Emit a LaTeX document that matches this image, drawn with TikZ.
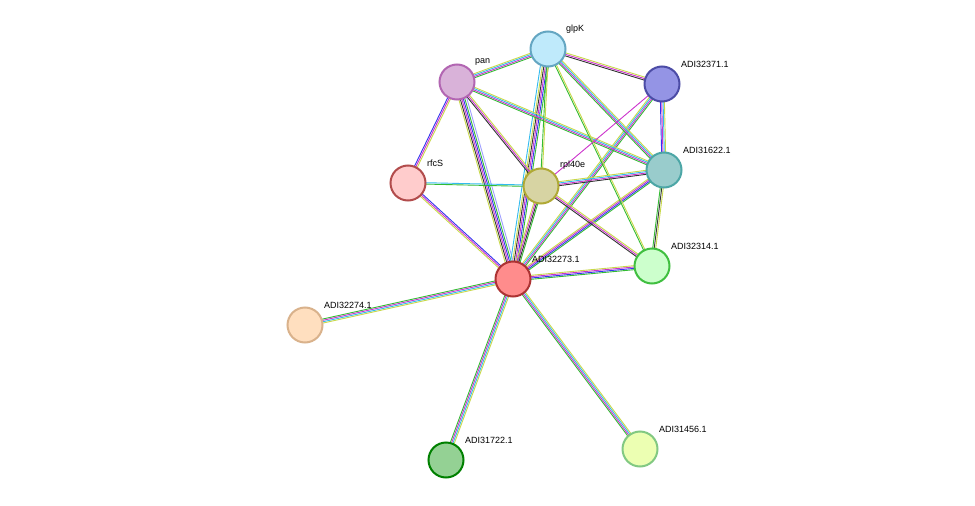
\documentclass[tikz,border=0pt]{standalone}
\usepackage{fontspec}
\setmainfont{Liberation Sans}
\usetikzlibrary{calc}
\definecolor{tm}{HTML}{C8D84A}
\definecolor{ex}{HTML}{CC33CC}
\definecolor{db}{HTML}{33BBEE}
\definecolor{co}{HTML}{333333}
\definecolor{ne}{HTML}{33BB33}
\definecolor{cc}{HTML}{3333EE}
\definecolor{ho}{HTML}{A0A0FF}
\newcommand\edge[3]{\foreach \c/\o in {#3}{\draw[\c,line width=0.9pt] ($(#1)!\o pt!90:(#2)$) -- ($(#2)!\o pt!-90:(#1)$);}}
\tikzset{prot/.style={circle,minimum size=35pt,line width=2pt,inner sep=0pt},
lab/.style={font=\fontsize{9}{10}\selectfont,anchor=south west,inner sep=1pt}}
\begin{document}
\begin{tikzpicture}[x=1pt,y=-1pt]
\useasboundingbox (0,0) rectangle (975,506);
\coordinate (glpK) at (548,49);
\coordinate (pan) at (457,82);
\coordinate (a371) at (662,84);
\coordinate (rfcS) at (408,183);
\coordinate (rpl) at (541,186);
\coordinate (a622) at (664,170);
\coordinate (a273) at (513,279);
\coordinate (a314) at (652,266);
\coordinate (a274) at (305,325);
\coordinate (a722) at (446,460);
\coordinate (a456) at (640,449);
\edge{a273}{glpK}{ne/-3,cc/-1.5,ex/0,co/1.5,tm/3}
\edge{a273}{pan}{ne/-3,cc/-1.5,ex/0,co/1.5,tm/3}
\edge{a273}{rfcS}{cc/-1.5,ex/0,tm/1.5}
\edge{a273}{rpl}{ne/-2,co/-0.7,ex/0.7,tm/2}
\edge{a273}{a622}{ne/-2,cc/-0.7,ex/0.7,tm/2}
\edge{a273}{a371}{ne/-2,ex/-0.7,db/0.7,tm/2}
\edge{a273}{a314}{ne/-2,cc/-0.7,ex/0.7,tm/2}
\edge{a273}{a274}{ne/-2,ex/-0.7,db/0.7,tm/2}
\edge{a273}{a722}{ne/-2,ex/-0.7,db/0.7,tm/2}
\edge{a273}{a456}{ne/-2,ex/-0.7,db/0.7,tm/2}
\edge{a273}{pan}{ho/-5}
\edge{a273}{glpK}{db/5}
\edge{pan}{glpK}{ne/-2,ex/-0.7,db/0.7,tm/2}
\edge{pan}{rfcS}{cc/-1.5,ex/0,tm/1.5}
\edge{pan}{rpl}{co/-1.5,ex/0,tm/1.5}
\edge{pan}{a622}{ne/-2,ex/-0.7,db/0.7,tm/2}
\edge{glpK}{a371}{co/-1.5,ex/0,tm/1.5}
\edge{glpK}{a622}{ne/-2,ex/-0.7,db/0.7,tm/2}
\edge{glpK}{rpl}{ne/-0.7,tm/0.7}
\edge{glpK}{a314}{ne/-0.7,tm/0.7}
\edge{rfcS}{rpl}{ne/-0.7,db/0.7}
\edge{rpl}{a622}{co/-2,ex/-0.7,db/0.7,tm/2}
\edge{rpl}{a314}{co/-1.5,ex/0,tm/1.5}
\edge{rpl}{a371}{ex/0}
\edge{a371}{a622}{cc/-2,ex/-0.7,db/0.7,tm/2}
\edge{a622}{a314}{ne/-1.5,co/0,tm/1.5}
\node[prot,draw=red!60!black!80,fill=red!45] (n273) at (a273) {};
\node[prot,draw=cyan!50!gray,fill=cyan!25] (nglpK) at (glpK) {};
\node[prot,draw=violet!60,fill=violet!30] (npan) at (pan) {};
\node[prot,draw=blue!50!black!70,fill=blue!40!white!80!gray] (n371) at (a371) {};
\node[prot,draw=red!40!gray,fill=red!20] (nrfcS) at (rfcS) {};
\node[prot,draw=olive!70,fill=yellow!40!gray!60] (nrpl) at (rpl) {};
\node[prot,draw=teal!70,fill=teal!40] (n622) at (a622) {};
\node[prot,draw=green!50!gray,fill=green!20] (n314) at (a314) {};
\node[prot,draw=brown!60,fill=orange!25] (n274) at (a274) {};
\node[prot,draw=green!50!black,fill=green!40!gray!60] (n722) at (a722) {};
\node[prot,draw=green!40!gray!70,fill=lime!30] (n456) at (a456) {};
\node[lab] at (565,35) {glpK};
\node[lab] at (474,67) {pan};
\node[lab] at (680,69) {ADI32371.1};
\node[lab] at (426,168) {rfcS};
\node[lab] at (559,171) {rpl40e};
\node[lab] at (682,155) {ADI31622.1};
\node[lab] at (531,264) {ADI32273.1};
\node[lab] at (670,251) {ADI32314.1};
\node[lab] at (323,310) {ADI32274.1};
\node[lab] at (464,445) {ADI31722.1};
\node[lab] at (658,434) {ADI31456.1};
\end{tikzpicture}
\end{document}
